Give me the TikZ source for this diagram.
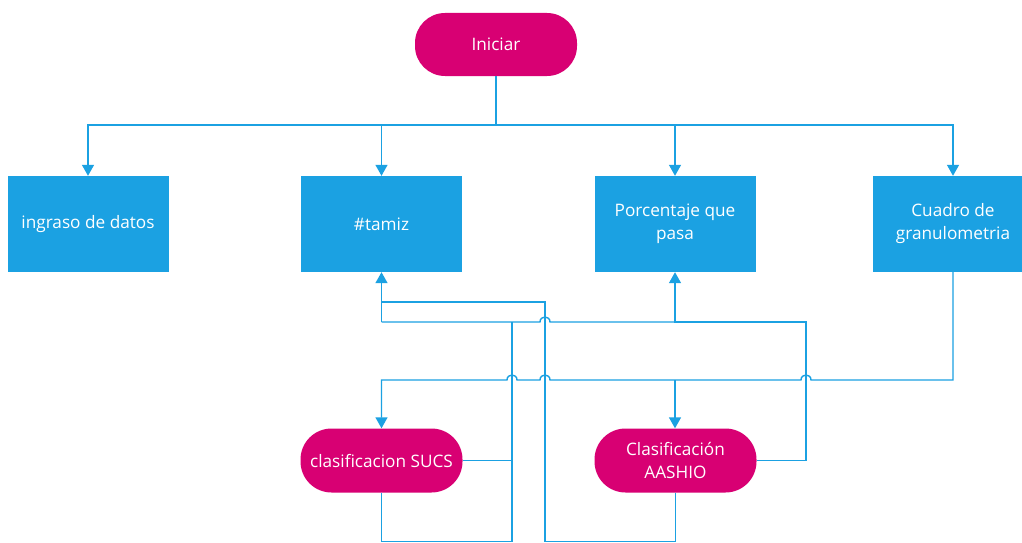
\documentclass[tikz,border=0pt]{standalone}
\usepackage{fontspec}
\setmainfont{Open Sans}
\usetikzlibrary{arrows.meta}
\definecolor{mblue}{HTML}{1BA1E2}
\definecolor{mmag}{HTML}{D80073}
\begin{document}
\begin{tikzpicture}[x=1pt,y=-1pt,
  txt/.style={text=white,align=center,inner sep=0pt,font=\fontsize{17.2}{23}\selectfont},
  box/.style={txt,fill=mblue,minimum width=161pt,minimum height=96pt},
  term/.style={txt,fill=mmag,minimum width=162pt,minimum height=64pt,rounded corners=31pt},
  conn/.style={draw=mblue,line width=1.4pt},
  arr/.style={conn,-{Triangle[width=12pt,length=11pt]}}]
\useasboundingbox (0,0) rectangle (1022,543);
\fill[white] (0,0) rectangle (1022,543);
% nodes
\node[term,minimum height=63pt,rounded corners=30pt] (ini) at (496,44.5) {Iniciar};
\node[box] (b1) at (88,224) {ingraso de datos};
\node[box] (b2) at (381.5,224) {\#tamiz};
\node[box] (b3) at (675,224) {Porcentaje que\\pasa};
\node[box] (b4) at (953,224) {Cuadro de\\granulometria};
\node[term] (sucs) at (381.5,460.5) {clasificacion SUCS};
\node[term] (aash) at (675.5,460.5) {Clasificación\\AASHIO};
% coordinates
\coordinate (bus) at (496,125);
\coordinate (c380) at (675,380);
\coordinate (t322) at (381.5,322);
\coordinate (p322) at (675,322);
\coordinate (s322) at (512,322);
% Iniciar to boxes
\draw[conn] (ini.south) -- (bus);
\draw[arr] (bus) -| (b1.north);
\draw[arr] (bus) -| (b2.north);
\draw[arr] (bus) -| (b3.north);
\draw[arr] (bus) -| (b4.north);
% Cuadro -> SUCS / AASHIO
\draw[arr] (b4.south) |- (811,380)
  .. controls (811,373.3) and (801,373.3) .. (801,380) -- (550,380)
  .. controls (550,373.3) and (540,373.3) .. (540,380) -- (517,380)
  .. controls (517,373.3) and (507,373.3) .. (507,380) -| (sucs.north);
\draw[arr] (c380) -- (c380 |- aash.north);
% AASHIO right -> Porcentaje / #tamiz
\draw[arr] (aash.east) -| (806,322) -- (p322) -- (b3.south);
\draw[conn] (p322) -- (550,322)
  .. controls (550,315.3) and (540,315.3) .. (540,322) -- (t322);
\draw[arr] (t322) -- (b2.south);
% SUCS right and bottom
\draw[conn] (sucs.east) -| (s322);
\draw[conn] (sucs.south) |- (512,541.5) -- (512,460.5);
% AASHIO bottom -> #tamiz
\draw[conn] (aash.south) |- (545,541.5) |- (381.5,302) -- (t322);
\end{tikzpicture}
\end{document}
